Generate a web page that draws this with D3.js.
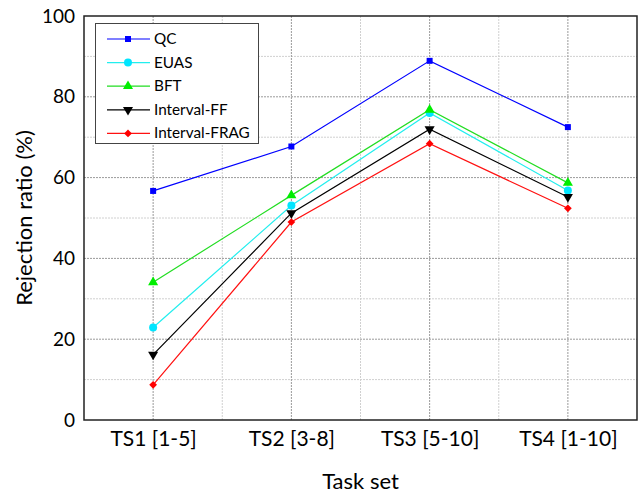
<!DOCTYPE html>
<html>
<head>
<meta charset="utf-8">
<script src="https://cdn.jsdelivr.net/npm/d3@7"></script>
<style>
  body { margin: 0; background: #fff; }
  text { font-family: Lato, "Open Sans", sans-serif; }
</style>
</head>
<body>
<div id="chart"></div>
<script>
const categories = ['TS1 [1-5]', 'TS2 [3-8]', 'TS3 [5-10]', 'TS4 [1-10]'];
const seriesNames = ['QC', 'EUAS', 'BFT', 'Interval-FF', 'Interval-FRAG'];
const qc = [56.7, 67.7, 88.9, 72.5];
const euas = [22.9, 53.1, 76.0, 56.8];
const bft = [34.1, 55.6, 76.8, 58.7];
const intervalFF = [16.2, 51.2, 72.0, 55.2];
const intervalFRAG = [8.7, 49.0, 68.4, 52.4];
const yTicks = [0, 20, 40, 60, 80, 100];
const yMinor = [10, 30, 50, 70, 90];

const seriesValues = [qc, euas, bft, intervalFF, intervalFRAG];
const colors = ['#0000ff', '#22eeee', '#22dd22', '#000000', '#ff1111'];
const markerColors = ['#0000ff', '#00e5ff', '#00ee00', '#000000', '#ff0000'];
const shapes = [d3.symbolSquare, d3.symbolCircle, d3.symbolTriangle, d3.symbolTriangle, d3.symbolSquare];
const sizes = [36, 50, 44, 44, 30];
const rotations = [0, 0, 0, 180, 45];

const width = 640, height = 495;
const margin = { top: 16, right: 3, bottom: 75, left: 84 };

const svg = d3.select('#chart')
  .append('svg')
  .attr('width', width)
  .attr('height', height);

const x = d3.scalePoint()
  .domain(categories)
  .range([margin.left, width - margin.right])
  .padding(0.5);

const y = d3.scaleLinear()
  .domain([0, 100])
  .range([height - margin.bottom, margin.top]);

const step = x.step();

// grid lines
const grid = svg.append('g');
grid.selectAll('.ymin')
  .data(yMinor)
  .enter()
  .append('line')
  .attr('x1', margin.left).attr('x2', width - margin.right)
  .attr('y1', d => y(d)).attr('y2', d => y(d))
  .attr('stroke', '#d0d0d0')
  .attr('stroke-dasharray', '2,1');
grid.selectAll('.ymaj')
  .data(yTicks.slice(1, -1))
  .enter()
  .append('line')
  .attr('x1', margin.left).attr('x2', width - margin.right)
  .attr('y1', d => y(d)).attr('y2', d => y(d))
  .attr('stroke', '#9a9a9a')
  .attr('stroke-dasharray', '2,1');
grid.selectAll('.xmin')
  .data(categories.slice(0, -1))
  .enter()
  .append('line')
  .attr('x1', d => x(d) + step / 2).attr('x2', d => x(d) + step / 2)
  .attr('y1', y(0)).attr('y2', y(100))
  .attr('stroke', '#d0d0d0')
  .attr('stroke-dasharray', '2,1');
grid.selectAll('.xmaj')
  .data(categories)
  .enter()
  .append('line')
  .attr('x1', d => x(d)).attr('x2', d => x(d))
  .attr('y1', y(0)).attr('y2', y(100))
  .attr('stroke', '#9a9a9a')
  .attr('stroke-dasharray', '2,1');

// axes
const xAxis = d3.axisBottom(x).tickSize(0).tickPadding(11);
svg.append('g')
  .attr('transform', 'translate(0,' + y(0) + ')')
  .call(xAxis)
  .call(g => g.select('.domain').remove())
  .selectAll('text')
  .attr('font-size', 21)
  .attr('fill', '#000');

const yAxis = d3.axisLeft(y).tickValues(yTicks).tickSize(0).tickPadding(9);
svg.append('g')
  .attr('transform', 'translate(' + margin.left + ',0)')
  .call(yAxis)
  .call(g => g.select('.domain').remove())
  .selectAll('text')
  .attr('font-size', 19)
  .attr('fill', '#000');

// frame
svg.append('rect')
  .attr('x', margin.left)
  .attr('y', margin.top)
  .attr('width', width - margin.right - margin.left)
  .attr('height', y(0) - margin.top)
  .attr('fill', 'none')
  .attr('stroke', '#222')
  .attr('stroke-width', 1.5);

// axis titles
svg.append('text')
  .text('Task set')
  .attr('x', (margin.left + width - margin.right) / 2)
  .attr('y', 489)
  .attr('text-anchor', 'middle')
  .attr('font-size', 22);

svg.append('text')
  .text('Rejection ratio (%)')
  .attr('transform', 'rotate(-90)')
  .attr('x', -y(50))
  .attr('y', 32)
  .attr('text-anchor', 'middle')
  .attr('font-size', 22);

// series
const line = d3.line()
  .x((d, i) => x(categories[i]))
  .y(d => y(d));

seriesValues.forEach((vals, s) => {
  svg.append('path')
    .datum(vals)
    .attr('d', line)
    .attr('fill', 'none')
    .attr('stroke', colors[s])
    .attr('stroke-width', 1.2);

  svg.selectAll('.m' + s)
    .data(vals)
    .enter()
    .append('path')
    .attr('d', d3.symbol().type(shapes[s]).size(sizes[s]))
    .attr('transform', (d, i) => 'translate(' + x(categories[i]) + ',' + y(d) + ') rotate(' + rotations[s] + ')')
    .attr('fill', markerColors[s]);
});

// legend
const legend = svg.append('g');
legend.append('rect')
  .attr('x', 95.5)
  .attr('y', 23.5)
  .attr('width', 163)
  .attr('height', 120)
  .attr('fill', '#fff')
  .attr('stroke', '#444')
  .attr('stroke-width', 1);

seriesNames.forEach((name, s) => {
  const ly = 39 + s * 23.6;
  legend.append('line')
    .attr('x1', 107).attr('x2', 150)
    .attr('y1', ly).attr('y2', ly)
    .attr('stroke', colors[s])
    .attr('stroke-width', 1.2);
  legend.append('path')
    .attr('d', d3.symbol().type(shapes[s]).size(sizes[s]))
    .attr('transform', 'translate(128,' + ly + ') rotate(' + rotations[s] + ')')
    .attr('fill', markerColors[s]);
  legend.append('text')
    .text(name)
    .attr('x', 154)
    .attr('y', ly + 5)
    .attr('font-size', 15.3);
});
</script>
</body>
</html>
